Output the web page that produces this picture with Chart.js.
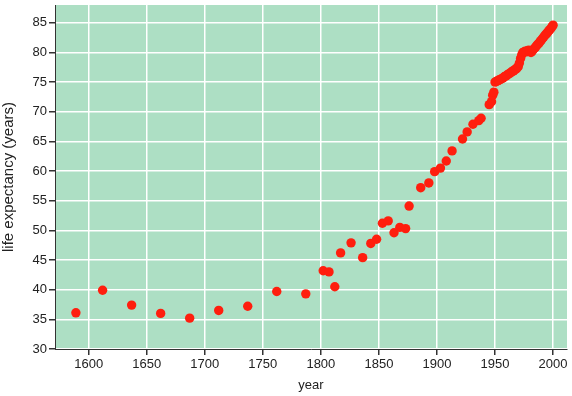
<!DOCTYPE html>
<html>
<head>
<meta charset="utf-8">
<script src="https://cdn.jsdelivr.net/npm/chart.js@4.4.0/dist/chart.umd.min.js"></script>
<style>
html,body{margin:0;padding:0;background:#fff;}
#wrap{width:572px;height:396px;}
</style>
</head>
<body>
<div id="wrap"><canvas id="c" width="572" height="396"></canvas></div>
<script>
const years = [1589,1612,1637,1662,1687,1712,1737,1762,1787,
  1802,1807,1812,1817,1826,1836,1843,1848,1853,1858,1863,1868,1873,1876,
  1886,1893,1898,1903,1908,1913,1922,1926,1931,1936,1938,1945,1947,1948,1949,
  1950,1951,1952,1953,1954,1955,1956,1957,1958,1959,
  1960,1961,1962,1963,1964,1965,1966,1967,1968,1969,
  1970,1971,1972,1973,1974,1975,1976,1977,1978,1979,
  1980,1981,1982,1983,1984,1985,1986,1987,1988,1989,
  1990,1991,1992,1993,1994,1995,1996,1997,1998,1999,2000];
const lifeExpectancy = [36.1,39.9,37.4,36.0,35.2,36.5,37.2,39.7,39.3,
  43.2,43.0,40.5,46.2,47.9,45.4,47.8,48.5,51.2,51.6,49.6,50.5,50.3,54.1,
  57.2,58.0,59.9,60.5,61.7,63.4,65.4,66.6,67.9,68.5,68.9,71.2,71.7,72.8,73.3,
  75.0,75.1,75.2,75.3,75.4,75.5,75.6,75.7,75.9,76.0,
  76.1,76.3,76.4,76.5,76.7,76.8,76.9,77.1,77.2,77.4,
  77.6,78.2,79.0,79.6,80.0,80.1,80.2,80.1,80.3,80.4,
  80.2,80.0,80.2,80.5,80.7,80.9,81.2,81.4,81.6,81.9,
  82.1,82.4,82.6,82.9,83.1,83.3,83.6,83.8,84.0,84.3,84.6];
const xTicks = [1600,1650,1700,1750,1800,1850,1900,1950,2000];
const yTicks = [30,35,40,45,50,55,60,65,70,75,80,85];

const bgPlugin = {
  id: 'bg',
  beforeDraw(chart) {
    const a = chart.chartArea, ctx = chart.ctx;
    ctx.save();
    ctx.fillStyle = '#addfc4';
    ctx.fillRect(a.left, a.top, a.right - a.left, a.bottom - a.top);
    ctx.restore();
  }
};

const fam = '"Liberation Sans", Arial, Helvetica, sans-serif';
const tickFont = {family: fam, size: 13};

new Chart(document.getElementById('c'), {
  type: 'scatter',
  data: {
    datasets: [{
      data: years.map((y, i) => ({x: y, y: lifeExpectancy[i]})),
      backgroundColor: '#ff1e0e',
      borderWidth: 0,
      pointRadius: 4.7,
      pointHoverRadius: 4.7
    }]
  },
  options: {
    responsive: false,
    animation: false,
    devicePixelRatio: 1,
    layout: {padding: {top: 5, right: 5, left: 0, bottom: 0}},
    plugins: {legend: {display: false}, tooltip: {enabled: false}},
    scales: {
      x: {
        type: 'linear', min: 1571, max: 2012,
        afterBuildTicks: ax => { ax.ticks = xTicks.map(v => ({value: v})); },
        afterFit: ax => { ax.height = 47; ax.paddingLeft = 0; ax.paddingRight = 0; },
        grid: {color: '#ffffff', lineWidth: 1.5, tickColor: '#333333', tickLength: 6},
        border: {display: true, color: '#333333', width: 1},
        ticks: {color: '#222222', font: tickFont, padding: 2, maxRotation: 0, autoSkip: false, callback: v => String(v)},
        title: {display: true, text: 'year', color: '#222222', font: {family: fam, size: 13}, padding: {top: 0, bottom: 3}}
      },
      y: {
        type: 'linear', min: 30, max: 88,
        afterBuildTicks: ax => { ax.ticks = yTicks.map(v => ({value: v})); },
        afterFit: ax => { ax.width = 55; ax.paddingTop = 0; ax.paddingBottom = 0; },
        grid: {color: '#ffffff', lineWidth: 1.5, tickColor: '#333333', tickLength: 6},
        border: {display: true, color: '#333333', width: 1},
        ticks: {color: '#222222', font: tickFont, padding: 2, autoSkip: false, callback: v => String(v)},
        title: {display: true, text: 'life expectancy (years)', color: '#222222', font: {family: fam, size: 15}, padding: {top: 0, bottom: 0}}
      }
    }
  },
  plugins: [bgPlugin]
});
</script>
</body>
</html>
